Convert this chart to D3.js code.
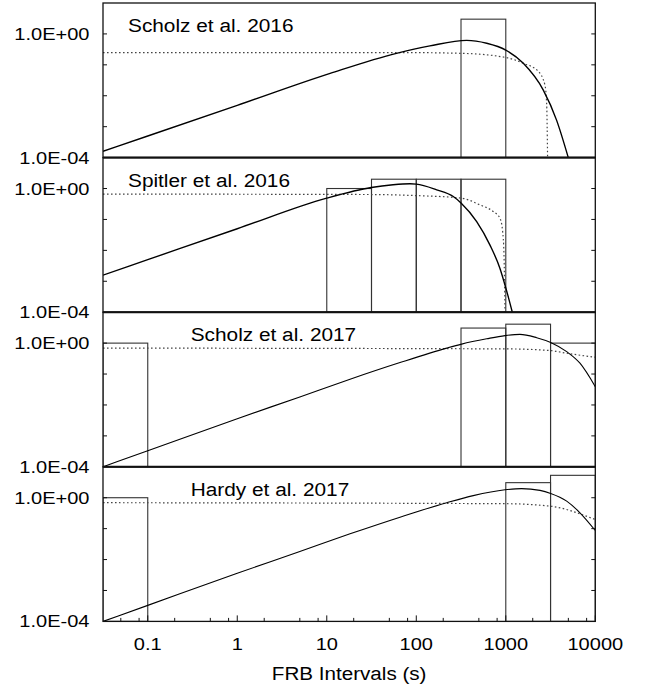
<!DOCTYPE html>
<html>
<head>
<meta charset="utf-8">
<script src="https://cdn.jsdelivr.net/npm/d3@7"></script>
<style>
  html, body { margin: 0; padding: 0; background: #fff; }
  svg { display: block; }
  text { font-family: "Liberation Sans", Arial, Helvetica, sans-serif; fill: #000; }
</style>
</head>
<body>
<script>
// ---------------- DATA ----------------
const panelTitles = ["Scholz et al. 2016", "Spitler et al. 2016", "Scholz et al. 2017", "Hardy et al. 2017"];

const xTickValues = [0.1, 1, 10, 100, 1000, 10000];
const xTickLabels = ["0.1", "1", "10", "100", "1000", "10000"];
const xMinorTicks = [0.05, 0.08, 0.2, 0.5, 0.8, 2, 5, 8, 20, 50, 80, 200, 500, 800, 2000, 5000, 8000];
const yTickValues = [1, 0.1, 0.01, 0.001];
const yLabelValues = [1, 1e-4];
const yLabelTexts = ["1.0E+00", "1.0E-04"];
const xAxisTitle = "FRB Intervals (s)";

// histogram bins: lower edge, upper edge, value
const barsScholz16 = [
  { lo: 316, hi: 1000, v: 3.0 }
];
const barsSpitler16 = [
  { lo: 10, hi: 31.6, v: 1.0 },
  { lo: 31.6, hi: 100, v: 2.0 },
  { lo: 100, hi: 316, v: 2.0 },
  { lo: 316, hi: 1000, v: 2.0 }
];
const barsScholz17 = [
  { lo: 0.0316, hi: 0.1, v: 1.0 },
  { lo: 316, hi: 1000, v: 3.07 },
  { lo: 1000, hi: 3162, v: 4.1 },
  { lo: 3162, hi: 10000, v: 1.0 }
];
const barsHardy17 = [
  { lo: 0.0316, hi: 0.1, v: 1.0 },
  { lo: 1000, hi: 3162, v: 3.07 },
  { lo: 3162, hi: 10000, v: 5.3 }
];

// solid model curves [interval, value]
const solidScholz16 = [[0.0316, 1.6e-4], [0.1, 5.0e-4], [1, 4.9e-3], [10.9, 0.053], [60, 0.236], [142, 0.41], [366, 0.62], [612, 0.50], [1000, 0.30], [1570, 0.112], [2625, 0.0152], [3700, 0.0016], [4990, 1.0e-4]];
const solidSpitler16 = [[0.0316, 1.58e-3], [0.1, 5.0e-3], [1, 0.050], [10, 0.49], [31.4, 1.08], [55, 1.32], [85, 1.42], [100, 1.39], [169, 0.91], [259, 0.55], [318, 0.336], [473, 0.085], [666, 0.0148], [861, 0.0026], [1004, 5.9e-4], [1183, 1.0e-4]];
const solidScholz17 = [[0.0316, 1.0e-4], [0.1, 3.3e-4], [1, 3.6e-3], [5, 0.0182], [18.2, 0.068], [65.8, 0.235], [219, 0.69], [321, 0.93], [612, 1.38], [980, 1.75], [1440, 1.92], [2215, 1.5], [3175, 1.05], [4790, 0.53], [6740, 0.224], [10000, 0.039]];
const solidHardy17 = [[0.0316, 1.0e-4], [0.1, 3.3e-4], [1, 3.6e-3], [5, 0.0182], [18.2, 0.068], [65.8, 0.235], [219, 0.69], [433, 1.17], [980, 1.8], [1500, 1.97], [2410, 1.73], [3175, 1.38], [4790, 0.776], [6740, 0.326], [10000, 0.087]];

// dotted model curves [interval, value]
const dottedScholz16 = [[0.0316, 0.25], [66, 0.25], [316, 0.236], [1000, 0.173], [1570, 0.112], [2290, 0.063], [2740, 0.022], [2865, 0.005], [2930, 1.0e-4]];
const dottedSpitler16 = [[0.0316, 0.66], [30, 0.64], [100, 0.59], [318, 0.49], [515, 0.295], [725, 0.18], [861, 0.109], [923, 0.04], [955, 0.007], [980, 1.0e-4]];
const dottedScholz17 = [[0.0316, 0.69], [1000, 0.65], [3175, 0.575], [4790, 0.47], [10000, 0.35]];
const dottedHardy17 = [[0.0316, 0.69], [1000, 0.64], [3175, 0.53], [4790, 0.417], [6740, 0.30], [10000, 0.197]];

const panels = [
  { title: panelTitles[0], bars: barsScholz16, solid: solidScholz16, dotted: dottedScholz16, titleX: 128 },
  { title: panelTitles[1], bars: barsSpitler16, solid: solidSpitler16, dotted: dottedSpitler16, titleX: 128 },
  { title: panelTitles[2], bars: barsScholz17, solid: solidScholz17, dotted: dottedScholz17, titleX: 190.7 },
  { title: panelTitles[3], bars: barsHardy17, solid: solidHardy17, dotted: dottedHardy17, titleX: 190.7 }
];

// ---------------- LAYOUT ----------------
const W = 653, H = 691;
const plotL = 103, plotR = 595.3, plotT = 3, panelH = 154.6;
const xMin = Math.pow(10, -1.5), xMax = 10000;
const yMin = 1e-4, yMax = 10;

const svg = d3.select("body").append("svg").attr("width", W).attr("height", H);

const x = d3.scaleLog().domain([xMin, xMax]).range([plotL, plotR]);

const tickFont = 16.3, tickStretch = 1.23;
const titleFont = 18.6, titleStretch = 1.12;

function stretchedText(parent, tx, ty, txt, size, sx, anchor) {
  parent.append("g")
    .attr("transform", `translate(${tx},${ty}) scale(${sx},1)`)
    .append("text")
    .attr("x", 0).attr("y", 0)
    .attr("text-anchor", anchor)
    .style("font-size", size + "px")
    .text(txt);
}

panels.forEach((p, i) => {
  const y0 = plotT + i * panelH;
  const y1 = y0 + panelH;
  const y = d3.scaleLog().domain([yMin, yMax]).range([y1, y0]);
  const g = svg.append("g");

  const clipId = "clip" + i;
  svg.append("defs").append("clipPath").attr("id", clipId)
    .append("rect").attr("x", plotL).attr("y", y0).attr("width", plotR - plotL).attr("height", panelH);

  const plot = g.append("g").attr("clip-path", `url(#${clipId})`);

  // bars
  plot.selectAll("rect.bar").data(p.bars).enter().append("rect")
    .attr("class", "bar")
    .attr("x", d => x(d.lo))
    .attr("width", d => x(d.hi) - x(d.lo))
    .attr("y", d => y(d.v))
    .attr("height", d => y(yMin) - y(d.v))
    .attr("fill", "none")
    .attr("stroke", "#333")
    .attr("stroke-width", 1.1);

  const line = d3.line()
    .x(d => x(d[0]))
    .y(d => y(d[1]))
    .curve(d3.curveMonotoneX);

  plot.append("path").datum(p.dotted)
    .attr("d", line)
    .attr("fill", "none")
    .attr("stroke", "#444")
    .attr("stroke-width", 1.2)
    .attr("stroke-dasharray", "1.6,2.4");

  plot.append("path").datum(p.solid)
    .attr("d", line)
    .attr("fill", "none")
    .attr("stroke", "#000")
    .attr("stroke-width", i < 2 ? 1.4 : 1.1);

  // frame
  g.append("rect")
    .attr("x", plotL).attr("y", y0)
    .attr("width", plotR - plotL).attr("height", panelH)
    .attr("fill", "none").attr("stroke", "#111").attr("stroke-width", 1.3);

  // y ticks (left and right, inward)
  yTickValues.forEach(v => {
    g.append("line").attr("x1", plotL).attr("x2", plotL + 4)
      .attr("y1", y(v)).attr("y2", y(v)).attr("stroke", "#111").attr("stroke-width", 1);
    g.append("line").attr("x1", plotR).attr("x2", plotR - 4)
      .attr("y1", y(v)).attr("y2", y(v)).attr("stroke", "#111").attr("stroke-width", 1);
  });

  // y labels
  yLabelValues.forEach((v, k) => {
    stretchedText(g, 89.5, y(v) + 6, yLabelTexts[k], tickFont, tickStretch, "end");
  });

  // title
  stretchedText(g, p.titleX, y0 + 29, p.title, titleFont, titleStretch, "start");

  // separator thicker
  if (i > 0) {
    g.append("line").attr("x1", plotL).attr("x2", plotR).attr("y1", y0).attr("y2", y0)
      .attr("stroke", "#111").attr("stroke-width", 2);
  }

  // x axis on bottom panel
  if (i === panels.length - 1) {
    xMinorTicks.forEach(v => {
      g.append("line").attr("x1", x(v)).attr("x2", x(v))
        .attr("y1", y1).attr("y2", y1 - 3.5).attr("stroke", "#111").attr("stroke-width", 1);
    });
    xTickValues.forEach((v, k) => {
      g.append("line").attr("x1", x(v)).attr("x2", x(v))
        .attr("y1", y1).attr("y2", y1 - 6).attr("stroke", "#111").attr("stroke-width", 1);
      stretchedText(g, x(v), 650, xTickLabels[k], tickFont, tickStretch, "middle");
    });
    stretchedText(g, (plotL + plotR) / 2, 680, xAxisTitle, titleFont, 1.11, "middle");
  }
});
</script>
</body>
</html>
